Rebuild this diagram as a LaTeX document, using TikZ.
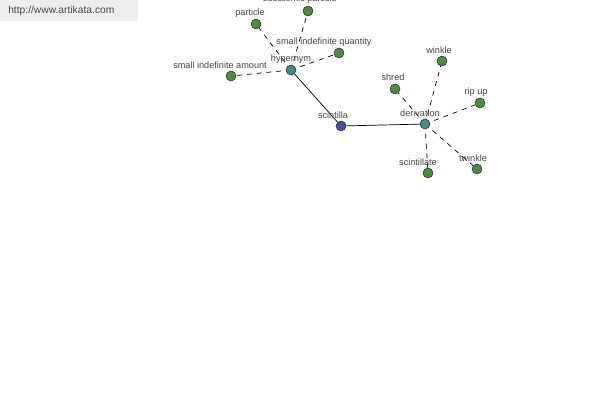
\documentclass[tikz,border=0pt]{standalone}
\usepackage{fontspec}
\setmainfont{Liberation Sans}
\definecolor{leaf}{HTML}{4E8B3E}
\definecolor{hub}{HTML}{3E8E87}
\definecolor{root}{HTML}{4A4E9C}
\definecolor{lbl}{HTML}{444444}
\definecolor{banner}{HTML}{EEEEEE}
\definecolor{bantext}{HTML}{4A4A4A}
\begin{document}
\begin{tikzpicture}[x=0.025cm,y=-0.025cm,
  dot/.style={circle,draw=black!80,line width=0.4pt,inner sep=0pt,minimum size=0.25cm},
  leafdot/.style={dot,fill=leaf},
  hubdot/.style={dot,fill=hub},
  rootdot/.style={dot,fill=root},
  lab/.style={text=lbl,font=\fontsize{6.5}{7}\selectfont,inner sep=0pt},
  solidedge/.style={draw=black,line width=0.5pt},
  dashedge/.style={draw=black,line width=0.5pt,dash pattern=on 3.5pt off 3.5pt}]
\useasboundingbox (0,0) rectangle (600,400);
\fill[white] (0,0) rectangle (600,400);
\fill[banner] (0,0) rectangle (138,21);
\node[text=bantext,font=\fontsize{7.3}{8}\selectfont,inner sep=0pt,anchor=west] (url) at (8,11) {http://www.artikata.com};

% nodes
\coordinate (hp) at (291,70);
\coordinate (sc) at (341,126);
\coordinate (dv) at (425,124);
\coordinate (pa) at (256,24);
\coordinate (sp) at (308,11);
\coordinate (sq) at (339,53);
\coordinate (sa) at (231,76);
\coordinate (wi) at (442,61);
\coordinate (sh) at (395,89);
\coordinate (ru) at (480,103);
\coordinate (tw) at (477,169);
\coordinate (st) at (428,173);

% edges
\draw[solidedge] (hp) -- (sc);
\draw[solidedge] (sc) -- (dv);
\foreach \l in {pa,sp,sq,sa} \draw[dashedge] (hp) -- (\l);
\foreach \l in {wi,sh,ru,tw,st} \draw[dashedge] (dv) -- (\l);

% dots
\node[hubdot] (hypernym) at (hp) {};
\node[rootdot] (scintilla) at (sc) {};
\node[hubdot] (derivation) at (dv) {};
\node[leafdot] (particle) at (pa) {};
\node[leafdot] (subatomic) at (sp) {};
\node[leafdot] (siq) at (sq) {};
\node[leafdot] (sia) at (sa) {};
\node[leafdot] (winkle) at (wi) {};
\node[leafdot] (shred) at (sh) {};
\node[leafdot] (ripup) at (ru) {};
\node[leafdot] (twinkle) at (tw) {};
\node[leafdot] (scintillate) at (st) {};

% labels
\node[lab] (l1) at (291,59) {hypernym};
\node[lab] (l2) at (333,115) {scintilla};
\node[lab] (l3) at (420,113) {derivation};
\node[lab] (l4) at (250,13) {particle};
\node[lab] (l5) at (300,-1) {subatomic particle};
\node[lab] (l6) at (324,42) {small indefinite quantity};
\node[lab] (l7) at (220,65) {small indefinite amount};
\node[lab] (l8) at (439,50) {winkle};
\node[lab] (l9) at (393,77) {shred};
\node[lab] (l10) at (476,92) {rip up};
\node[lab] (l11) at (473,158) {twinkle};
\node[lab] (l12) at (418,162) {scintillate};
\end{tikzpicture}
\end{document}
